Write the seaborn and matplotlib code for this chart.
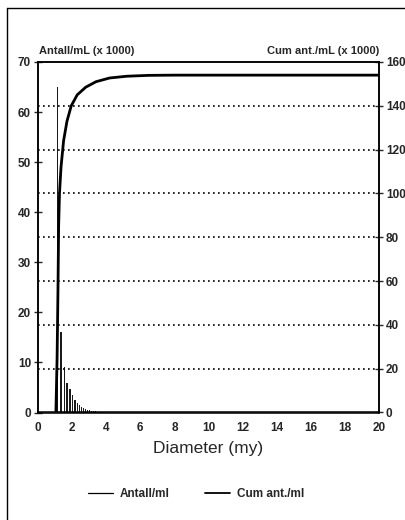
import numpy as np
import pandas as pd
import matplotlib.pyplot as plt
import seaborn as sns
from matplotlib.lines import Line2D

# Antall/ml per size channel (x 1000)
diam_bar = [1.15, 1.35, 1.55, 1.70, 1.88, 2.03, 2.17, 2.30, 2.44, 2.56,
            2.68, 2.79, 2.91, 3.03, 3.15, 3.27, 3.38, 3.50, 3.62, 3.74]
antall = [65, 16, 9.1, 5.9, 4.7, 3.4, 2.5, 1.9, 1.5, 1.1,
          0.8, 0.6, 0.5, 0.4, 0.3, 0.25, 0.2, 0.15, 0.1, 0.1]

# Cumulative count (x 1000), right axis
diam_cum = [1.05, 1.12, 1.17, 1.21, 1.26, 1.35, 1.5, 1.7, 1.95, 2.3,
            2.8, 3.4, 4.2, 5.2, 6.5, 8, 12, 20]
cum_ant = [0, 25, 55, 85, 100, 112, 124, 133, 140, 145,
           148.5, 151, 152.7, 153.5, 153.9, 154, 154, 154]

x_ticks = list(range(0, 21, 2))
left_ticks = list(range(0, 71, 10))
right_ticks = list(range(0, 161, 20))

sns.set_style("white")
plt.rcParams['font.family'] = ['Liberation Sans', 'DejaVu Sans']

fig = plt.figure(figsize=(4.05, 5.2), dpi=100)
ax = fig.add_axes([38 / 405, 1 - 412.5 / 520, 341 / 405, 350.5 / 520])
ax2 = ax.twinx()

df_cum = pd.DataFrame({"d": diam_cum, "cum": cum_ant})

# dotted grid at the right-axis ticks
for v in right_ticks[1:-1]:
    ax2.axhline(v, color="black", lw=1.2, ls=(0, (1, 2)), zorder=1)

ax.bar(diam_bar, antall, width=0.08, color="#1a1a1a", lw=0, zorder=2)
sns.lineplot(data=df_cum, x="d", y="cum", ax=ax2, color="black", lw=2.0, zorder=3)

ax.set_xlim(0, 20)
ax.set_ylim(0, 70)
ax2.set_ylim(0, 160)
ax.set_xticks(x_ticks)
ax.set_yticks(left_ticks)
ax2.set_yticks(right_ticks)
ax.set_xticklabels([str(t) for t in x_ticks], fontsize=8.5, fontweight="bold")
ax.set_yticklabels([str(t) for t in left_ticks], fontsize=8.5, fontweight="bold")
ax2.set_yticklabels([str(t) for t in right_ticks], fontsize=8.5, fontweight="bold")
ax.tick_params(axis="x", direction="in", length=5, width=1, pad=7)
ax.tick_params(axis="y", direction="inout", length=6, width=1, pad=2)
ax2.tick_params(axis="y", direction="inout", length=6, width=1, pad=2)
ax2.set_ylabel("")
ax2.set_xlabel("")
ax.set_xlabel("Diameter (my)", fontsize=12.5, labelpad=5)
ax.set_ylabel("")

for a in (ax, ax2):
    for s in a.spines.values():
        s.set_color("black")
        s.set_linewidth(1.1)

fig.text(39 / 405, 1 - 51 / 520, "Antall/mL (x 1000)", fontsize=8,
         fontweight="bold", ha="left", va="center")
fig.text(379 / 405, 1 - 51 / 520, "Cum ant./mL (x 1000)", fontsize=8,
         fontweight="bold", ha="right", va="center")

handles = [Line2D([], [], color="black", lw=0.9),
           Line2D([], [], color="black", lw=1.3)]
fig.legend(handles, ["Antall/ml", "Cum ant./ml"], loc="center",
           bbox_to_anchor=(0.485, 26 / 520), ncol=2, frameon=False,
           prop={"size": 8.5, "weight": "bold"}, handlelength=2.1,
           handletextpad=0.6, columnspacing=3.0)

# page frame (top and left edges)
fig.add_artist(Line2D([7 / 405, 1], [1 - 8 / 520, 1 - 8 / 520],
                      transform=fig.transFigure, color="black", lw=1))
fig.add_artist(Line2D([7 / 405, 7 / 405], [0, 1 - 8 / 520],
                      transform=fig.transFigure, color="black", lw=1))

fig.savefig("out.png", dpi=100)
